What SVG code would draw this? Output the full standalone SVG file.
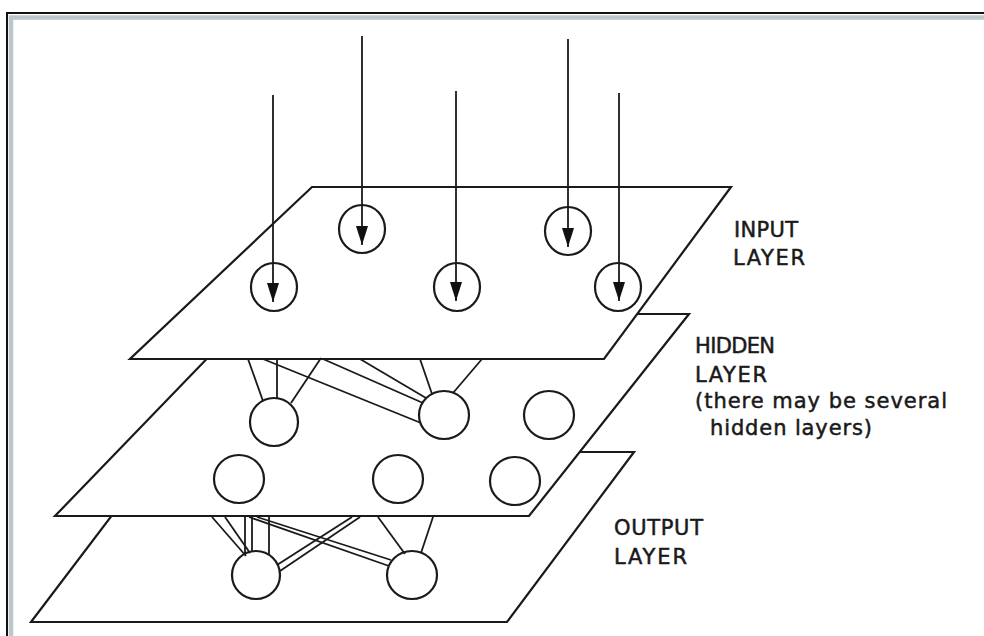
<svg xmlns="http://www.w3.org/2000/svg" width="984" height="636" viewBox="0 0 984 636">
<style>
.plane{fill:#fff;stroke:#1a1a1a;stroke-width:2.2;stroke-linejoin:miter}
.node{fill:#fff;stroke:#1a1a1a;stroke-width:2.2}
.link{fill:none;stroke:#1a1a1a;stroke-width:1.8}
.arrow{fill:none;stroke:#1a1a1a;stroke-width:1.8;marker-end:url(#tri)}
.lbl{font-family:"DejaVu Sans","Liberation Sans",sans-serif;font-size:21px;fill:#1a1a1a;stroke:#1a1a1a;stroke-width:0.5}
</style>
<defs>
<marker id="tri" markerUnits="userSpaceOnUse" markerWidth="20" markerHeight="12" refX="19" refY="6" orient="auto" viewBox="0 0 20 12">
<path d="M0,0 L19,6 L0,12 Z" fill="#111"/>
</marker>
</defs>
<rect width="984" height="636" fill="#fff"/>
<g id="frame">
<path d="M7,636 V13 H984" fill="none" stroke="#111" stroke-width="2"/>
<path d="M11,636 V17.5 H984" fill="none" stroke="#bcc7cb" stroke-width="4.5"/>
</g>
<g id="planes">
<polygon id="output-plane" class="plane" points="160,452 634,452 507,622 31,622"/>
<polygon id="hidden-plane" class="plane" points="250,314 689,314 529,516 55,516"/>
<polygon id="input-plane" class="plane" points="312,187 731,187 604,359 130,359"/>
</g>
<g id="input-nodes">
<g id="in1"><ellipse class="node" cx="274" cy="287" rx="23" ry="24"/></g>
<g id="in2"><ellipse class="node" cx="362" cy="229" rx="23" ry="24"/></g>
<g id="in3"><ellipse class="node" cx="457" cy="287" rx="23" ry="24"/></g>
<g id="in4"><ellipse class="node" cx="568" cy="231" rx="23" ry="24"/></g>
<g id="in5"><ellipse class="node" cx="618" cy="287" rx="23" ry="24"/></g>
</g>
<g id="hidden-nodes">
<g id="h1"><ellipse class="node" cx="274" cy="422" rx="24" ry="24"/></g>
<g id="h2"><ellipse class="node" cx="444" cy="415" rx="25" ry="24"/></g>
<g id="h3"><ellipse class="node" cx="549" cy="415" rx="25" ry="24"/></g>
<g id="h4"><ellipse class="node" cx="239" cy="479" rx="25" ry="24"/></g>
<g id="h5"><ellipse class="node" cx="398" cy="479" rx="25" ry="24"/></g>
<g id="h6"><ellipse class="node" cx="515" cy="481" rx="25" ry="24"/></g>
</g>
<g id="output-nodes">
<g id="o1"><ellipse class="node" cx="256" cy="575" rx="24" ry="24"/></g>
<g id="o2"><ellipse class="node" cx="412" cy="575" rx="25" ry="24"/></g>
</g>
<g id="connectors">
<line class="arrow" x1="273" y1="95" x2="273" y2="302"/>
<line class="arrow" x1="362" y1="36" x2="362" y2="245"/>
<line class="arrow" x1="456" y1="91" x2="456" y2="301"/>
<line class="arrow" x1="568" y1="39" x2="568" y2="247"/>
<line class="arrow" x1="619" y1="93" x2="619" y2="301"/>
<line class="link" x1="248" y1="359" x2="263" y2="401"/>
<line class="link" x1="277" y1="359" x2="277" y2="399"/>
<line class="link" x1="321" y1="358" x2="291" y2="403"/>
<line class="link" x1="263" y1="359" x2="421" y2="423"/>
<line class="link" x1="323" y1="359" x2="423" y2="403"/>
<line class="link" x1="360" y1="359" x2="426" y2="398"/>
<line class="link" x1="420" y1="359" x2="432" y2="394"/>
<line class="link" x1="482" y1="359" x2="453" y2="393"/>
<line class="link" x1="212" y1="517" x2="246" y2="556"/>
<line class="link" x1="225" y1="517" x2="250" y2="553"/>
<line class="link" x1="245" y1="517" x2="245" y2="555"/>
<line class="link" x1="252" y1="517" x2="252" y2="552"/>
<line class="link" x1="269" y1="517" x2="269" y2="555"/>
<line class="link" x1="277" y1="565" x2="352" y2="517"/>
<line class="link" x1="280" y1="571" x2="360" y2="517"/>
<line class="link" x1="249" y1="517" x2="389" y2="566"/>
<line class="link" x1="257" y1="517" x2="391" y2="560"/>
<line class="link" x1="378" y1="517" x2="405" y2="554"/>
<line class="link" x1="433" y1="517" x2="421" y2="553"/>
</g>
<g id="labels">
<text class="lbl" x="734" y="237" textLength="64">INPUT</text>
<text class="lbl" x="733" y="265" textLength="72">LAYER</text>
<text class="lbl" x="695" y="353" textLength="80">HIDDEN</text>
<text class="lbl" x="695" y="382" textLength="72">LAYER</text>
<text class="lbl" x="695" y="408" textLength="252">(there may be several</text>
<text class="lbl" x="710" y="435" textLength="162">hidden layers)</text>
<text class="lbl" x="614" y="535" textLength="89">OUTPUT</text>
<text class="lbl" x="614" y="564" textLength="73">LAYER</text>
</g>
</svg>
